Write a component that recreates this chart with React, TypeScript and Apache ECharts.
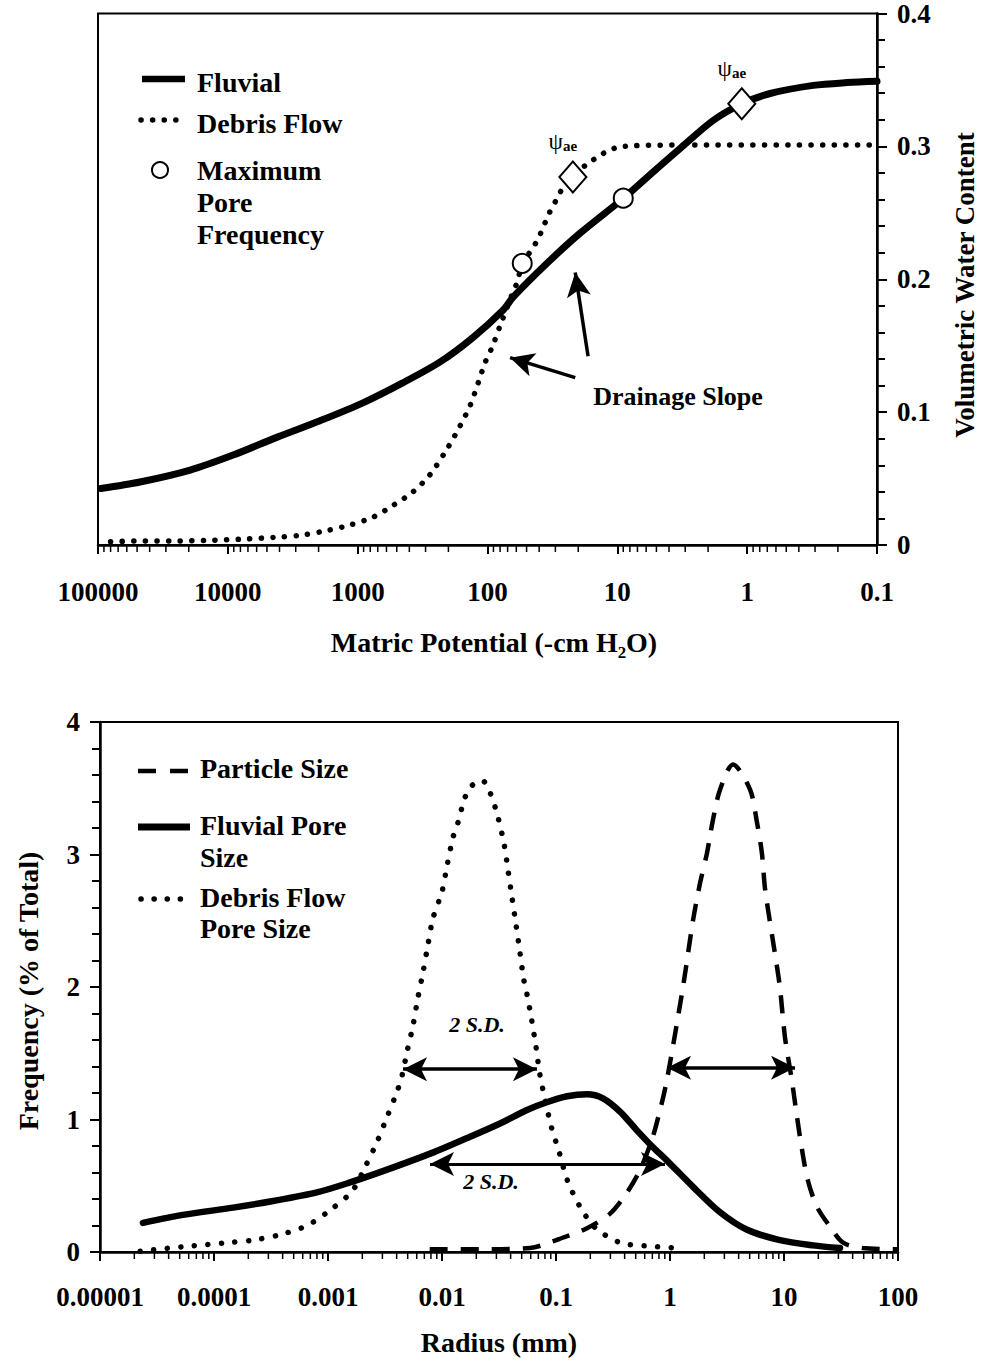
import React, { useEffect, useRef } from 'react';
import * as echarts from 'echarts';

const FONT = "'Liberation Serif', 'Times New Roman', Times, serif";

// ---------- Upper panel: soil water retention ----------
// tick labels for exponents -1 .. 5 of the matric potential axis
const potentialTickLabels = ['0.1', '1', '10', '100', '1000', '10000', '100000'];

// [matric potential (-cm H2O), volumetric water content]
const fluvialRetention: [number, number][] = [
  [95000, 0.0425], [47500, 0.0474], [19500, 0.0564], [9100, 0.0677], [4200, 0.081],
  [1950, 0.0935], [910, 0.107], [450, 0.122], [230, 0.138], [130, 0.156],
  [76, 0.1767], [63.5, 0.1865], [34.8, 0.212], [19.4, 0.2346], [9.0, 0.2609],
  [4.93, 0.2835], [3.28, 0.2985], [1.83, 0.3195], [1.1, 0.332], [0.665, 0.3398],
  [0.31, 0.3459], [0.17, 0.348], [0.1, 0.349],
];

const debrisRetention: [number, number][] = [
  [80000, 0.0025], [50000, 0.003], [26000, 0.003], [14000, 0.0035], [7500, 0.0045],
  [4000, 0.006], [2650, 0.0075], [1700, 0.011], [1150, 0.015], [760, 0.021],
  [530, 0.03], [375, 0.04], [277, 0.053], [200, 0.074], [163, 0.0895], [136, 0.105],
  [118, 0.122], [104, 0.1376], [92, 0.149], [80, 0.165], [65, 0.188], [59, 0.198],
  [54, 0.211], [41.5, 0.229], [33, 0.251], [29, 0.261], [26.6, 0.268], [22, 0.277],
  [17, 0.287], [14.3, 0.2917], [12.4, 0.2955], [10, 0.2992], [7.5, 0.3005],
  [3.3, 0.301], [0.1, 0.301],
];

// maximum pore frequency points (debris flow, fluvial)
const maxPoreFrequency: [number, number][] = [[54, 0.212], [9.0, 0.261]];
// air-entry potentials (debris flow, fluvial)
const airEntry: [number, number][] = [[22, 0.277], [1.1, 0.332]];

// drainage-slope arrows: [tail, tip]
const drainageArrows: [[number, number], [number, number]][] = [
  [[16.8, 0.142], [21.1, 0.205]],
  [[21.1, 0.126], [67, 0.141]],
];

// ---------- Lower panel: size distributions ----------
// tick labels for exponents -5 .. 2 of the radius axis
const radiusTickLabels = ['0.00001', '0.0001', '0.001', '0.01', '0.1', '1', '10', '100'];

// [radius (mm), frequency (% of total)]
const particleSize: [number, number][] = [
  [0.0078, 0.02], [0.0215, 0.02], [0.059, 0.03], [0.108, 0.1], [0.187, 0.18],
  [0.298, 0.29], [0.42, 0.45], [0.546, 0.62], [0.695, 0.85], [0.817, 1.07],
  [0.94, 1.3], [1.3, 2.0], [1.59, 2.5], [1.83, 2.78], [2.11, 3.01], [2.38, 3.26],
  [2.75, 3.49], [3.57, 3.68], [5.04, 3.49], [5.8, 3.24], [6.4, 3.01], [6.8, 2.75],
  [7.5, 2.5], [8.3, 2.26], [9.2, 2.0], [10.2, 1.62], [11.7, 1.3], [13.0, 1.02],
  [14.4, 0.77], [16.2, 0.54], [19.5, 0.34], [25.4, 0.19], [33, 0.07], [49, 0.03],
  [100, 0.02],
];

const fluvialPore: [number, number][] = [
  [2.38e-5, 0.22], [5.35e-5, 0.28], [1.47e-4, 0.335], [3.3e-4, 0.385], [8.0e-4, 0.45],
  [1.56e-3, 0.525], [3.03e-3, 0.61], [8.3e-3, 0.75], [0.0166, 0.86], [0.0323, 0.97],
  [0.055, 1.07], [0.083, 1.13], [0.125, 1.175], [0.187, 1.19], [0.258, 1.16], [0.364, 1.06],
  [0.51, 0.92], [0.71, 0.79], [0.94, 0.69], [1.6, 0.49], [2.75, 0.3], [4.7, 0.17],
  [9.2, 0.09], [18, 0.05], [31, 0.03],
];

const debrisPore: [number, number][] = [
  [2.25e-5, 0.005], [5.35e-5, 0.04], [1.3e-4, 0.07], [2.2e-4, 0.09], [3.79e-4, 0.13],
  [6.55e-4, 0.2], [1.06e-3, 0.32], [1.63e-3, 0.46], [2.11e-3, 0.64], [2.69e-3, 0.83],
  [3.3e-3, 1.02], [4.03e-3, 1.21], [4.46e-3, 1.33], [4.93e-3, 1.51], [5.57e-3, 1.71],
  [6.15e-3, 1.92], [6.81e-3, 2.11], [7.53e-3, 2.32], [8.34e-3, 2.52], [0.01, 2.72],
  [0.0111, 2.92], [0.0125, 3.13], [0.0138, 3.24], [0.0159, 3.43], [0.0183, 3.52],
  [0.0224, 3.56], [0.0263, 3.47], [0.031, 3.28], [0.0352, 3.07], [0.0381, 2.87],
  [0.0412, 2.67], [0.0446, 2.47], [0.0483, 2.26], [0.0523, 2.05], [0.0555, 1.95],
  [0.0612, 1.75], [0.0667, 1.55], [0.0722, 1.34], [0.0802, 1.15], [0.0913, 0.94],
  [0.107, 0.75], [0.126, 0.54], [0.163, 0.34], [0.223, 0.18], [0.367, 0.07],
  [0.63, 0.045], [1.15, 0.03],
];

// two-standard-deviation spans: [from, to]
const sdArrows: [[number, number], [number, number]][] = [
  [[4.55e-3, 1.38], [0.068, 1.38]],
  [[7.85e-3, 0.664], [0.904, 0.664]],
  [[0.942, 1.39], [12.5, 1.39]],
];

// minor ticks of a decade axis (2..9 x 10^e)
function decadeMinors(fromExp: number, toExp: number): [number, number][] {
  const out: [number, number][] = [];
  for (let e = fromExp; e < toExp; e++) {
    for (let k = 2; k <= 9; k++) out.push([k * Math.pow(10, e), 0]);
  }
  return out;
}

const labelFromExp = (labels: string[], firstExp: number) => (v: number) => {
  const i = Math.round(Math.log10(v)) - firstExp;
  return labels[i] ?? '';
};

const minorTickRenderer = (len: number) => (_params: any, api: any) => {
  const p = api.coord([api.value(0), api.value(1)]);
  return {
    type: 'line',
    shape: { x1: p[0], y1: p[1], x2: p[0], y2: p[1] + len },
    style: { stroke: '#000', lineWidth: 1.5 },
  };
};

const axisText = { fontFamily: FONT, fontWeight: 'bold', color: '#000' };

function txt(text: string, x: number, y: number, size: number, extra: any = {}) {
  return {
    type: 'text',
    x,
    y,
    silent: true,
    style: {
      text,
      fill: '#000',
      font: `${extra.italic ? 'italic ' : ''}bold ${size}px ${FONT}`,
      align: extra.align ?? 'left',
      textAlign: extra.align ?? 'left',
      verticalAlign: 'middle',
      textVerticalAlign: 'middle',
    },
    rotation: extra.rotation ?? 0,
  };
}

function arrowLines(arrows: [[number, number], [number, number]][], double: boolean, width: number) {
  return {
    silent: true,
    animation: false,
    symbol: double ? ['arrow', 'arrow'] : ['none', 'arrow'],
    symbolSize: [18, 24],
    label: { show: false },
    emphasis: { disabled: true },
    lineStyle: { color: '#000', width, type: 'solid' },
    itemStyle: { color: '#000' },
    data: arrows.map(([a, b]) => [{ coord: a }, { coord: b }]),
  };
}

export default function App() {
  const ref = useRef<HTMLDivElement>(null);

  useEffect(() => {
    if (!ref.current) return;
    const chart = echarts.init(ref.current, undefined, { renderer: 'svg' });

    const option: any = {
      animation: false,
      backgroundColor: '#fff',
      grid: [
        { left: 98, top: 13, width: 779, height: 532, show: true, borderColor: '#000', borderWidth: 2 },
        { left: 100, top: 722, width: 798, height: 530, show: true, borderColor: '#000', borderWidth: 2 },
      ],
      xAxis: [
        {
          gridIndex: 0,
          type: 'log',
          logBase: 10,
          min: 0.1,
          max: 100000,
          inverse: true,
          axisLine: { lineStyle: { color: '#000', width: 2.5 } },
          axisTick: { length: 9, lineStyle: { color: '#000', width: 2 } },
          axisLabel: { ...axisText, fontSize: 27, margin: 33, formatter: labelFromExp(potentialTickLabels, -1) },
          splitLine: { show: false },
        },
        {
          gridIndex: 1,
          type: 'log',
          logBase: 10,
          min: 0.00001,
          max: 100,
          axisLine: { lineStyle: { color: '#000', width: 2.5 } },
          axisTick: { length: 9, lineStyle: { color: '#000', width: 2 } },
          axisLabel: { ...axisText, fontSize: 27, margin: 31, formatter: labelFromExp(radiusTickLabels, -5) },
          splitLine: { show: false },
        },
      ],
      yAxis: [
        {
          gridIndex: 0,
          type: 'value',
          position: 'right',
          min: 0,
          max: 0.4,
          interval: 0.1,
          axisLine: { show: true, lineStyle: { color: '#000', width: 2.5 } },
          axisTick: { show: true, length: 10, lineStyle: { color: '#000', width: 2 } },
          minorTick: { show: true, splitNumber: 5, length: 8, lineStyle: { color: '#000', width: 2 } },
          axisLabel: { ...axisText, fontSize: 27, margin: 20 },
          splitLine: { show: false },
        },
        {
          gridIndex: 1,
          type: 'value',
          position: 'left',
          min: 0,
          max: 4,
          interval: 1,
          axisLine: { show: true, lineStyle: { color: '#000', width: 2.5 } },
          axisTick: { show: true, length: 10, lineStyle: { color: '#000', width: 2 } },
          minorTick: { show: true, splitNumber: 5, length: 8, lineStyle: { color: '#000', width: 2 } },
          axisLabel: { ...axisText, fontSize: 27, margin: 20 },
          splitLine: { show: false },
        },
      ],
      series: [
        // upper panel
        {
          name: 'Fluvial',
          type: 'line',
          xAxisIndex: 0,
          yAxisIndex: 0,
          data: fluvialRetention,
          smooth: 0.3,
          showSymbol: false,
          lineStyle: { color: '#000', width: 7, cap: 'round' },
          z: 2,
          markLine: arrowLines(drainageArrows, false, 3.5),
        },
        {
          name: 'Debris Flow',
          type: 'line',
          xAxisIndex: 0,
          yAxisIndex: 0,
          data: debrisRetention,
          smooth: 0.3,
          showSymbol: false,
          lineStyle: { color: '#000', width: 5.5, type: [0.1, 11.5], cap: 'round' },
          z: 2,
        },
        {
          name: 'Maximum Pore Frequency',
          type: 'scatter',
          xAxisIndex: 0,
          yAxisIndex: 0,
          data: maxPoreFrequency,
          symbol: 'circle',
          symbolSize: 19,
          itemStyle: { color: '#fff', borderColor: '#000', borderWidth: 2, opacity: 1 },
          z: 4,
        },
        {
          name: 'Air entry',
          type: 'scatter',
          xAxisIndex: 0,
          yAxisIndex: 0,
          data: airEntry,
          symbol: 'diamond',
          symbolSize: [27, 31],
          itemStyle: { color: '#fff', borderColor: '#000', borderWidth: 2, opacity: 1 },
          label: {
            show: true,
            position: 'top',
            distance: 7,
            offset: [-10, 0],
            color: '#000',
            formatter: '{p|ψ}{s|ae}',
            rich: {
              p: { fontFamily: FONT, fontSize: 23, color: '#000' },
              s: { fontFamily: FONT, fontSize: 15, fontWeight: 'bold', color: '#000', verticalAlign: 'bottom' },
            },
          },
          z: 4,
        },
        {
          type: 'custom',
          xAxisIndex: 0,
          yAxisIndex: 0,
          data: decadeMinors(-1, 5),
          renderItem: minorTickRenderer(7),
          clip: false,
          silent: true,
          z: 5,
        },
        // lower panel
        {
          name: 'Particle Size',
          type: 'line',
          xAxisIndex: 1,
          yAxisIndex: 1,
          data: particleSize,
          smooth: 0.3,
          showSymbol: false,
          lineStyle: { color: '#000', width: 4.5, type: [18, 13] },
          z: 2,
          markLine: arrowLines([sdArrows[2]], true, 3.5),
        },
        {
          name: 'Fluvial Pore Size',
          type: 'line',
          xAxisIndex: 1,
          yAxisIndex: 1,
          data: fluvialPore,
          smooth: 0.3,
          showSymbol: false,
          lineStyle: { color: '#000', width: 6.5, cap: 'round' },
          z: 2,
          markLine: arrowLines([sdArrows[1]], true, 3),
        },
        {
          name: 'Debris Flow Pore Size',
          type: 'line',
          xAxisIndex: 1,
          yAxisIndex: 1,
          data: debrisPore,
          smooth: 0.3,
          showSymbol: false,
          lineStyle: { color: '#000', width: 5.5, type: [0.1, 13.5], cap: 'round' },
          z: 2,
          markLine: arrowLines([sdArrows[0]], true, 3.5),
        },
        {
          type: 'custom',
          xAxisIndex: 1,
          yAxisIndex: 1,
          data: decadeMinors(-5, 2),
          renderItem: minorTickRenderer(7),
          clip: false,
          silent: true,
          z: 5,
        },
      ],
      graphic: [
        // upper legend
        { type: 'line', silent: true, shape: { x1: 142, y1: 79, x2: 185, y2: 79 }, style: { stroke: '#000', lineWidth: 6.5 } },
        txt('Fluvial', 197, 82, 28),
        {
          type: 'line', silent: true, shape: { x1: 141, y1: 120, x2: 179, y2: 120 },
          style: { stroke: '#000', lineWidth: 5.5, lineDash: [0.1, 11.5], lineCap: 'round' },
        },
        txt('Debris Flow', 197, 123, 28),
        { type: 'circle', silent: true, shape: { cx: 160, cy: 170, r: 8 }, style: { fill: '#fff', stroke: '#000', lineWidth: 2 } },
        txt('Maximum', 197, 170, 28),
        txt('Pore', 197, 202, 28),
        txt('Frequency', 197, 234, 28),
        txt('Drainage Slope', 678, 396, 26, { align: 'center' }),
        txt('Matric Potential (-cm H₂O)', 494, 642, 28, { align: 'center' }),
        txt('Volumetric Water Content', 965, 285, 27, { align: 'center', rotation: Math.PI / 2 }),
        // lower legend
        {
          type: 'line', silent: true, shape: { x1: 138, y1: 771, x2: 192, y2: 771 },
          style: { stroke: '#000', lineWidth: 4.5, lineDash: [18, 14] },
        },
        txt('Particle Size', 200, 768, 28),
        { type: 'line', silent: true, shape: { x1: 138, y1: 827, x2: 190, y2: 827 }, style: { stroke: '#000', lineWidth: 7 } },
        txt('Fluvial Pore', 200, 825, 28),
        txt('Size', 200, 857, 28),
        {
          type: 'line', silent: true, shape: { x1: 141, y1: 899, x2: 181, y2: 899 },
          style: { stroke: '#000', lineWidth: 5.5, lineDash: [0.1, 13], lineCap: 'round' },
        },
        txt('Debris Flow', 200, 897, 28),
        txt('Pore Size', 200, 928, 28),
        txt('2 S.D.', 477, 1024, 22, { align: 'center', italic: true }),
        txt('2 S.D.', 491, 1181, 22, { align: 'center', italic: true }),
        txt('Radius (mm)', 499, 1342, 28, { align: 'center' }),
        txt('Frequency (% of Total)', 28, 991, 28, { align: 'center', rotation: Math.PI / 2 }),
      ],
    };

    chart.setOption(option);
    return () => chart.dispose();
  }, []);

  return (
    <div
      ref={ref}
      style={{ position: 'absolute', left: 0, top: 0, width: 982, height: 1361, background: '#fff' }}
    />
  );
}
